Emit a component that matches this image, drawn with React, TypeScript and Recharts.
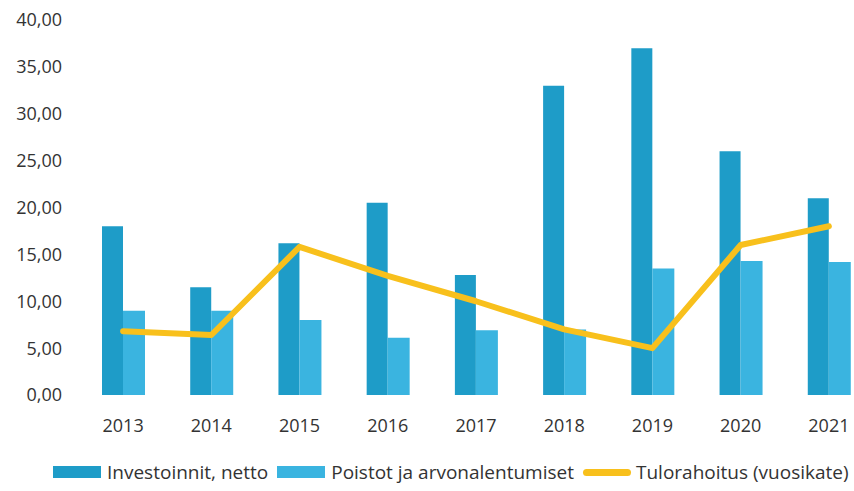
import { ComposedChart, Bar, Line, XAxis, YAxis, Legend } from 'recharts';

const years = ['2013', '2014', '2015', '2016', '2017', '2018', '2019', '2020', '2021'];
const investoinnit = [18.0, 11.5, 16.2, 20.5, 12.8, 33.0, 37.0, 26.0, 21.0];
const poistot = [9.0, 9.0, 8.0, 6.1, 6.9, 7.0, 13.5, 14.3, 14.2];
const tulorahoitus = [6.8, 6.4, 15.8, 12.7, 10.0, 7.0, 5.0, 16.0, 18.0];
const yTicks = [0, 5, 10, 15, 20, 25, 30, 35, 40];

const data = years.map((year, i) => ({
  year,
  investoinnit: investoinnit[i],
  poistot: poistot[i],
  tulorahoitus: tulorahoitus[i],
}));

const font = '"Open Sans", sans-serif';
const textColor = '#333333';

const renderLegend = (props: any) => {
  const items = props.payload || [];
  return (
    <div style={{ display: 'flex', alignItems: 'center', paddingLeft: 53, paddingTop: 14, fontFamily: font, fontSize: 19, color: textColor, whiteSpace: 'nowrap' }}>
      {items.map((item: any) => (
        <div key={item.value} style={{ display: 'flex', alignItems: 'center', marginRight: 9 }}>
          {item.type === 'line' ? (
            <span style={{ display: 'inline-block', width: 48, height: 7, borderRadius: 4, background: item.color, marginRight: 5 }} />
          ) : (
            <span style={{ display: 'inline-block', width: 48, height: 12, background: item.color, marginRight: 6 }} />
          )}
          <span>{item.value}</span>
        </div>
      ))}
    </div>
  );
};

export default function App() {
  return (
    <div style={{ position: 'absolute', left: 0, top: 0, width: 854, height: 491, overflow: 'hidden', background: '#fff' }}>
      <ComposedChart
        width={854}
        height={491}
        data={data}
        margin={{ top: 20, right: -19, left: 0, bottom: 0 }}
        barGap={0}
      >
        <XAxis
          dataKey="year"
          axisLine={false}
          tickLine={false}
          tickSize={0}
          tickMargin={24}
          height={50}
          tick={{ fontSize: 18, fill: textColor, fontFamily: font }}
        />
        <YAxis
          domain={[0, 40]}
          ticks={yTicks}
          axisLine={false}
          tickLine={false}
          tickSize={0}
          tickMargin={17}
          width={79}
          tickFormatter={(v: number) => v.toFixed(2).replace('.', ',')}
          tick={{ fontSize: 18, fill: textColor, fontFamily: font }}
        />
        <Legend verticalAlign="bottom" height={46} content={renderLegend} wrapperStyle={{ left: 0, width: 854 }} />
        <Bar dataKey="investoinnit" name="Investoinnit, netto" fill="#1E9CC8" barSize={21} legendType="rect" isAnimationActive={false} />
        <Bar dataKey="poistot" name="Poistot ja arvonalentumiset" fill="#3AB4E0" barSize={22} legendType="rect" isAnimationActive={false} />
        <Line
          dataKey="tulorahoitus"
          name="Tulorahoitus (vuosikate)"
          type="linear"
          stroke="#F8C01C"
          strokeWidth={6}
          strokeLinejoin="round"
          strokeLinecap="round"
          dot={false}
          legendType="line"
          isAnimationActive={false}
        />
      </ComposedChart>
    </div>
  );
}
